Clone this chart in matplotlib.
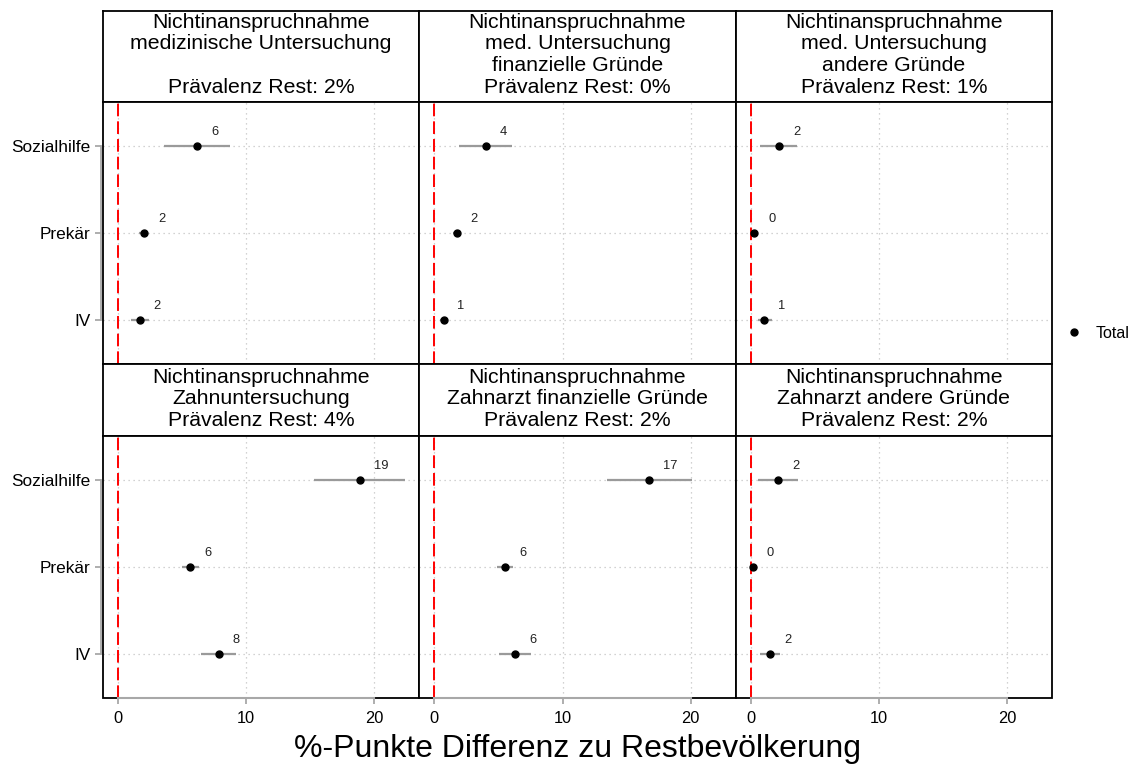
import matplotlib
matplotlib.use("Agg")
import matplotlib.pyplot as plt
from matplotlib.patches import Rectangle
import numpy as np

plt.rcParams['font.family'] = ['Liberation Sans', 'DejaVu Sans']

categories = ["IV", "Prekär", "Sozialhilfe"]
panel_titles = [
    "Nichtinanspruchnahme\nmedizinische Untersuchung\n\nPrävalenz Rest: 2%",
    "Nichtinanspruchnahme\nmed. Untersuchung\nfinanzielle Gründe\nPrävalenz Rest: 0%",
    "Nichtinanspruchnahme\nmed. Untersuchung\nandere Gründe\nPrävalenz Rest: 1%",
    "Nichtinanspruchnahme\nZahnuntersuchung\nPrävalenz Rest: 4%",
    "Nichtinanspruchnahme\nZahnarzt finanzielle Gründe\nPrävalenz Rest: 2%",
    "Nichtinanspruchnahme\nZahnarzt andere Gründe\nPrävalenz Rest: 2%",
]
# per panel estimates and confidence intervals
est_sozialhilfe = [6.17, 4.02, 2.21, 18.85, 16.78, 2.14]
lo_sozialhilfe = [3.60, 1.94, 0.70, 15.26, 13.50, 0.57]
hi_sozialhilfe = [8.75, 6.05, 3.65, 22.40, 20.10, 3.73]
est_prekaer = [2.03, 1.73, 0.29, 5.63, 5.53, 0.16]
lo_prekaer = [1.60, 1.45, 0.10, 4.97, 4.90, 0.00]
hi_prekaer = [2.30, 2.00, 0.50, 6.30, 6.10, 0.35]
est_iv = [1.70, 0.72, 1.04, 7.86, 6.30, 1.54]
lo_iv = [1.00, 0.45, 0.57, 6.46, 5.07, 0.73]
hi_iv = [2.40, 1.10, 1.70, 9.20, 7.50, 2.29]
x_ticks = [0, 10, 20]

W, H = 1138, 767
fig = plt.figure(figsize=(W / 100, H / 100), dpi=100)

def fa(l, t, w, h):
    return [l / W, 1 - (t + h) / H, w / W, h / H]

col_left = 103
col_w = (1052 - 103) / 3
strip_rows = [(11, 91), (364, 72)]
panel_rows = [(102, 262), (436, 262)]
grid_col = '#c4c4c4'
axis_col = '#a8a8a8'

handle = None
for i in range(6):
    r, c = divmod(i, 3)
    left = col_left + c * col_w
    # strip
    st, sh = strip_rows[r]
    sax = fig.add_axes(fa(left, st, col_w, sh))
    sax.set_xticks([]); sax.set_yticks([])
    for s in sax.spines.values():
        s.set_linewidth(1.3); s.set_color('black')
    sax.text(0.5, 0.52, panel_titles[i], ha='center', va='center',
             fontsize=15.3, linespacing=1.17, transform=sax.transAxes)
    # panel
    pt, ph = panel_rows[r]
    ax = fig.add_axes(fa(left, pt, col_w, ph))
    ax.set_xlim(-1.17, 23.5)
    ax.set_ylim(0.5, 3.5)
    for s in ax.spines.values():
        s.set_visible(False)
    ax.add_patch(Rectangle((0, 0), 1, 1, transform=ax.transAxes, fill=False,
                           edgecolor='black', lw=1.3, zorder=5, clip_on=False))
    for xv in x_ticks:
        ax.axvline(xv, color=grid_col, lw=0.9, ls=(0, (1, 3)), zorder=0)
    for yv in [1, 2, 3]:
        ax.axhline(yv, color=grid_col, lw=0.9, ls=(0, (1, 3)), zorder=0)
    ax.axvline(0, color='#ff0000', lw=1.4, ls=(0, (6.5, 2.6)), zorder=2)
    ests = [est_iv[i], est_prekaer[i], est_sozialhilfe[i]]
    los = [lo_iv[i], lo_prekaer[i], lo_sozialhilfe[i]]
    his = [hi_iv[i], hi_prekaer[i], hi_sozialhilfe[i]]
    ys = [1, 2, 3]
    ax.hlines(ys, los, his, color='#9a9a9a', lw=1.6, zorder=3)
    h, = ax.plot(ests, ys, 'o', color='black', ms=5, zorder=4, label='Total')
    handle = h
    for xv, yv in zip(ests, ys):
        ax.annotate(f"{int(round(xv))}", (xv, yv), xytext=(10, 10),
                    textcoords='offset points', ha='left', va='center',
                    fontsize=9.3, color='#222222')
    # axes
    ax.set_yticks(ys)
    ax.tick_params(axis='both', colors=axis_col, width=1.3, length=4.5,
                   labelcolor='black')
    if c == 0:
        ax.spines['left'].set_visible(True)
        ax.spines['left'].set_color(axis_col)
        ax.spines['left'].set_linewidth(1.3)
        ax.spines['left'].set_bounds(1, 3)
        ax.spines['left'].set_position(('outward', 1.5))
        ax.set_yticklabels(categories, fontsize=12.4)
        ax.tick_params(axis='y', pad=3)
    else:
        ax.tick_params(axis='y', left=False, labelleft=False)
    ax.set_xticks(x_ticks)
    if r == 1:
        ax.spines['bottom'].set_visible(True)
        ax.spines['bottom'].set_color(axis_col)
        ax.spines['bottom'].set_linewidth(1.5)
        ax.spines['bottom'].set_bounds(0, 20)
        ax.spines['bottom'].set_zorder(6)
        ax.set_xticklabels([str(t) for t in x_ticks], fontsize=11.8)
        ax.tick_params(axis='x', pad=5)
    else:
        ax.tick_params(axis='x', bottom=False, labelbottom=False)

fig.text(577.5 / W, 1 - 749 / H, "%-Punkte Differenz zu Restbevölkerung",
         ha='center', va='center', fontsize=23)
fig.legend([handle], ['Total'], loc='center left',
           bbox_to_anchor=(1052 / W, 1 - 333 / H), frameon=False,
           fontsize=11.5, handlelength=1.0, handletextpad=0.8)

fig.savefig("out.png", dpi=100)
